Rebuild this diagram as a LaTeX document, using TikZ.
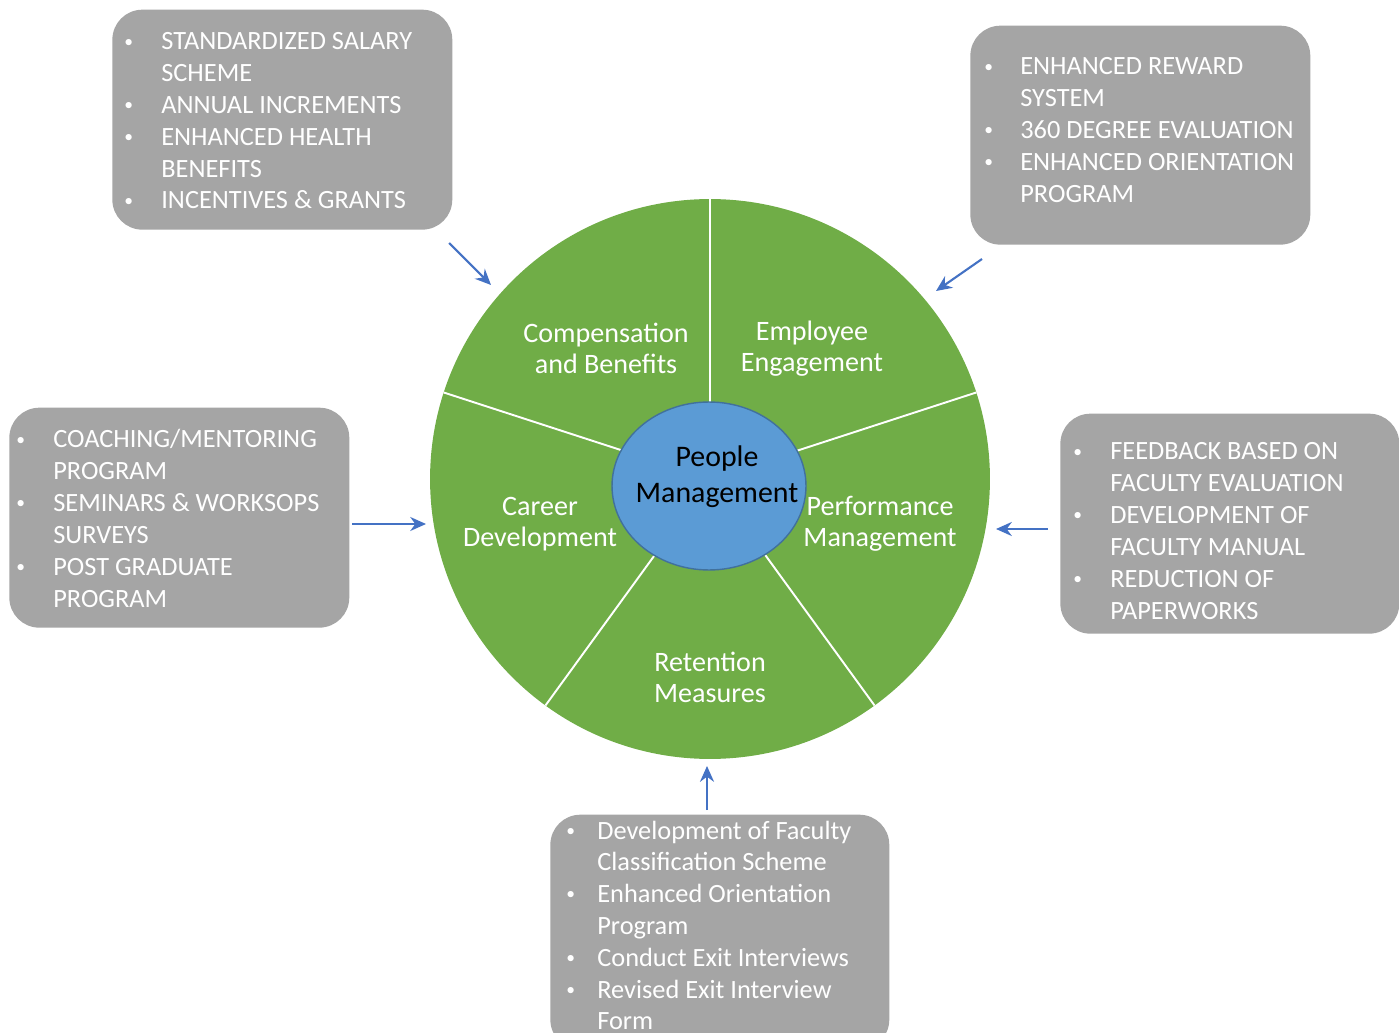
\documentclass[tikz,border=0pt]{standalone}
\usepackage{fontspec}
\setmainfont{Carlito}
\usepackage{tikz}
\usetikzlibrary{shapes.geometric, arrows.meta}
\definecolor{wheelgreen}{HTML}{70AD47}
\definecolor{coreblue}{HTML}{5B9BD5}
\definecolor{coreedge}{HTML}{41719C}
\definecolor{boxgray}{HTML}{A5A5A5}
\definecolor{arrowblue}{HTML}{4472C4}
\newcommand{\bul}{\raisebox{1.6pt}{\fontsize{10}{10}\selectfont\textbullet}}
\tikzset{
  infobox/.style={rectangle, rounded corners=0.6cm, fill=boxgray, anchor=south west,
    inner sep=0pt, minimum width=6.8cm, minimum height=4.4cm},
  infotext/.style={anchor=base west, inner sep=0pt, text=white,
    font=\fontsize{15}{18.1}\selectfont},
  sector/.style={text=white, align=center, font=\fontsize{16}{17.6}\selectfont},
  spoke/.style={draw=white, line width=1.1pt},
  feed/.style={draw=arrowblue, line width=1.2pt, -{Stealth[length=9pt,width=8pt]}},
}

\begin{document}
\begin{tikzpicture}[x=0.02cm, y=0.02cm]
	\useasboundingbox (0,0) rectangle (1399,1032);
	\clip (0,0) rectangle (1399,1032);
	%\draw[step=50, color=gray] (0,0) grid (1399,1032);
	% the wheel
	\node[circle, fill=wheelgreen, inner sep=0pt, outer sep=0pt, minimum size=11.2cm] (wheel) at (710,553) {};
	\foreach \a in {90,18,-54,-126,162}
		\draw[spoke] (wheel.center) -- (wheel.\a);
	\node[ellipse, fill=coreblue, draw=coreedge, line width=0.8pt, inner sep=0pt,
		minimum width=3.88cm, minimum height=3.36cm] (core) at (709,546) {};
	\node[align=center, font=\fontsize{17}{20.4}\selectfont] (corelabel) at (717,555) {People\\Management};
	\node[sector] (comp) at (606,684) {Compensation\\and Benefits};
	\node[sector] (engage) at (812,683) {Employee\\Engagement};
	\node[sector] (career) at (540,508) {Career\\Development};
	\node[sector] (perf) at (880,508) {Performance\\Management};
	\node[sector] (retain) at (710,355) {Retention\\Measures};
	% the boxes
	\node[infobox] (compbox) at (112,802) {};
	\node[infotext] (complist) at (124,982) {\begin{tabular}[t]{@{}p{0.74cm}@{}l@{}}
		\bul & STANDARDIZED SALARY\\
		 & SCHEME\\
		\bul & ANNUAL INCREMENTS\\
		\bul & ENHANCED HEALTH\\
		 & BENEFITS\\
		\bul & INCENTIVES \& GRANTS
	\end{tabular}};
	\node[infobox, minimum height=4.38cm] (engagebox) at (970,787) {};
	\node[infotext] (engagelist) at (984,957) {\begin{tabular}[t]{@{}p{0.72cm}@{}l@{}}
		\bul & ENHANCED REWARD\\
		 & SYSTEM\\
		\bul & 360 DEGREE EVALUATION\\
		\bul & ENHANCED ORIENTATION\\
		 & PROGRAM
	\end{tabular}};
	\node[infobox] (careerbox) at (9,404) {};
	\node[infotext] (careerlist) at (16,584) {\begin{tabular}[t]{@{}p{0.74cm}@{}l@{}}
		\bul & COACHING/MENTORING\\
		 & PROGRAM\\
		\bul & SEMINARS \& WORKSOPS\\
		 & SURVEYS\\
		\bul & POST GRADUATE\\
		 & PROGRAM
	\end{tabular}};
	\node[infobox, minimum width=6.78cm] (perfbox) at (1060,398) {};
	\node[infotext] (perflist) at (1073,572) {\begin{tabular}[t]{@{}p{0.74cm}@{}l@{}}
		\bul & FEEDBACK BASED ON\\
		 & FACULTY EVALUATION\\
		\bul & DEVELOPMENT OF\\
		 & FACULTY MANUAL\\
		\bul & REDUCTION OF\\
		 & PAPERWORKS
	\end{tabular}};
	\node[infobox, minimum width=6.78cm, minimum height=4.7cm] (retainbox) at (550,-18) {};
	\node[infotext] (retainlist) at (566,193) {\begin{tabular}[t]{@{}p{0.62cm}@{}l@{}}
		\bul & Development of Faculty\\
		 & Classification Scheme\\
		\bul & Enhanced Orientation\\
		 & Program\\
		\bul & Conduct Exit Interviews\\
		\bul & Revised Exit Interview\\
		 & Form
	\end{tabular}};
	% arrows into the wheel
	\coordinate (compout) at (449,789);
	\coordinate (compin) at (491,747);
	\coordinate (engageout) at (982,773);
	\coordinate (engagein) at (936,741);
	\coordinate (careerout) at (352,508);
	\coordinate (careerin) at (426,508);
	\coordinate (perfout) at (1048,503);
	\coordinate (perfin) at (996,503);
	\coordinate (retainout) at (707,222);
	\coordinate (retainin) at (707,266);
	\draw[feed] (compout) -- (compin);
	\draw[feed] (engageout) -- (engagein);
	\draw[feed] (careerout) -- (careerin);
	\draw[feed] (perfout) -- (perfin);
	\draw[feed] (retainout) -- (retainin);
\end{tikzpicture}
\end{document}
